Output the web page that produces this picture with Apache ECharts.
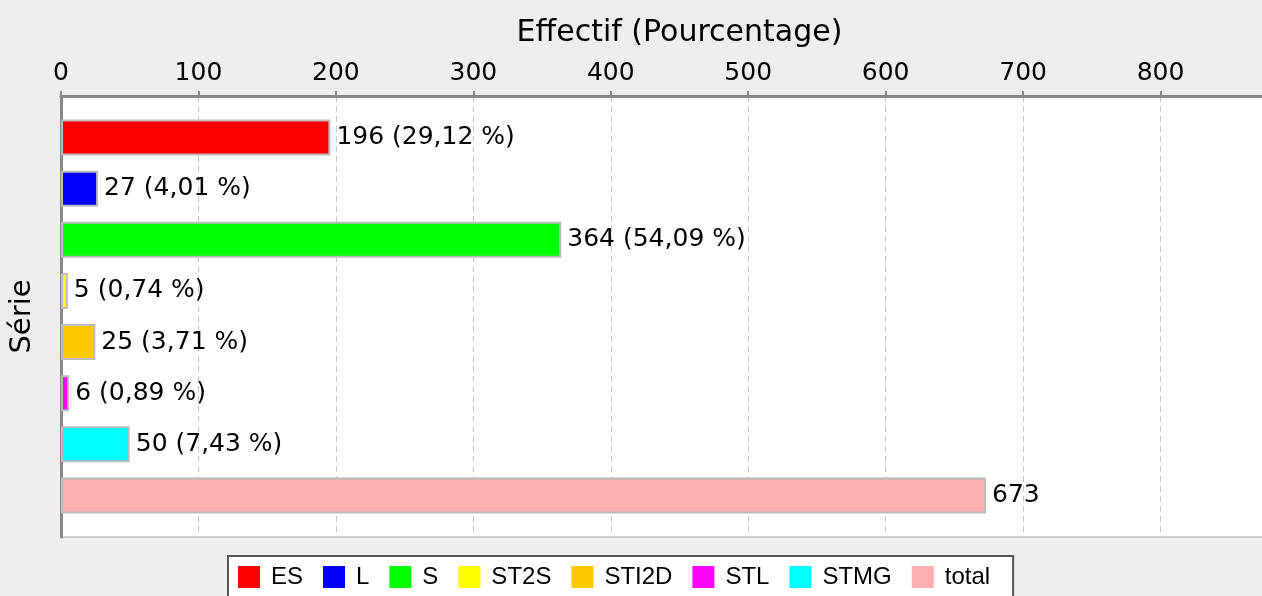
<!DOCTYPE html>
<html>
<head>
<meta charset="utf-8">
<script src="https://cdn.jsdelivr.net/npm/echarts@6/dist/echarts.min.js"></script>
<style>
html, body { margin: 0; padding: 0; background: #eeeeee; }
#chart { width: 1262px; height: 596px; }
</style>
</head>
<body>
<div id="chart"></div>
<script>
var seriesNames = ['ES', 'L', 'S', 'ST2S', 'STI2D', 'STL', 'STMG', 'total'];
var counts = [196, 27, 364, 5, 25, 6, 50, 673];
var colors = ['#ff0000', '#0000ff', '#00ff00', '#ffff00', '#ffc800', '#ff00ff', '#00ffff', '#ffafaf'];
var categories = ['Série'];
var total = 673;

var chart = echarts.init(document.getElementById('chart'));

function labelText(i) {
	if (seriesNames[i] === 'total') return String(counts[i]);
	var pct = (counts[i] / total * 100).toFixed(2).replace('.', ',');
	return counts[i] + ' (' + pct + ' %)';
}

var series = [];
for (var i = 0; i < seriesNames.length; i++) {
	series.push({
		name: seriesNames[i],
		type: 'bar',
		data: [counts[i]],
		barWidth: 36,
		barGap: '42%',
		itemStyle: {
			color: colors[i],
			borderColor: '#bcbcbc',
			borderWidth: 2
		},
		label: {
			show: true,
			position: 'right',
			distance: 6,
			color: '#000',
			fontFamily: 'DejaVu Sans',
			fontSize: 25,
			formatter: (function (k) { return function () { return labelText(k); }; })(i)
		}
	});
}

var option = {
	backgroundColor: '#eeeeee',
	animation: false,
	color: colors,
	grid: {
		left: 61,
		top: 96,
		bottom: 59,
		right: -36,
		outerBoundsMode: 'none',
		show: true,
		backgroundColor: '#ffffff',
		borderColor: '#a0a0a0',
		borderWidth: 1
	},
	legend: {
		left: 228,
		top: 556,
		data: seriesNames,
		icon: 'rect',
		itemWidth: 22,
		itemHeight: 22,
		itemGap: 20,
		itemStyle: { borderWidth: 0 },
		backgroundColor: '#ffffff',
		borderColor: '#555555',
		borderWidth: 2,
		borderRadius: 0,
		padding: [9, 23, 9, 10],
		textStyle: {
			fontFamily: 'Liberation Sans',
			fontSize: 24,
			color: '#000',
			padding: [0, 0, 0, 6]
		}
	},
	xAxis: {
		type: 'value',
		position: 'top',
		min: 0,
		max: 900,
		interval: 100,
		name: 'Effectif (Pourcentage)',
		nameLocation: 'middle',
		nameGap: 48,
		nameTextStyle: {
			fontFamily: 'DejaVu Sans',
			fontSize: 30,
			color: '#000'
		},
		axisLine: { show: true, lineStyle: { color: '#888888', width: 3 } },
		axisTick: { show: true, length: 5, lineStyle: { color: '#888888', width: 2 } },
		axisLabel: {
			fontFamily: 'DejaVu Sans',
			fontSize: 25,
			color: '#000',
			margin: 10
		},
		splitLine: {
			show: true,
			lineStyle: { color: '#c8c8c8', type: [6, 4], width: 1 }
		}
	},
	yAxis: {
		type: 'category',
		inverse: true,
		data: categories,
		name: 'Série',
		nameLocation: 'middle',
		nameGap: 24,
		nameTextStyle: {
			fontFamily: 'DejaVu Sans',
			fontSize: 29,
			color: '#000'
		},
		axisLine: { show: true, lineStyle: { color: '#888888', width: 3 } },
		axisTick: { show: false },
		axisLabel: { show: false },
		splitLine: { show: false }
	},
	series: series
};

chart.setOption(option);
</script>
</body>
</html>
